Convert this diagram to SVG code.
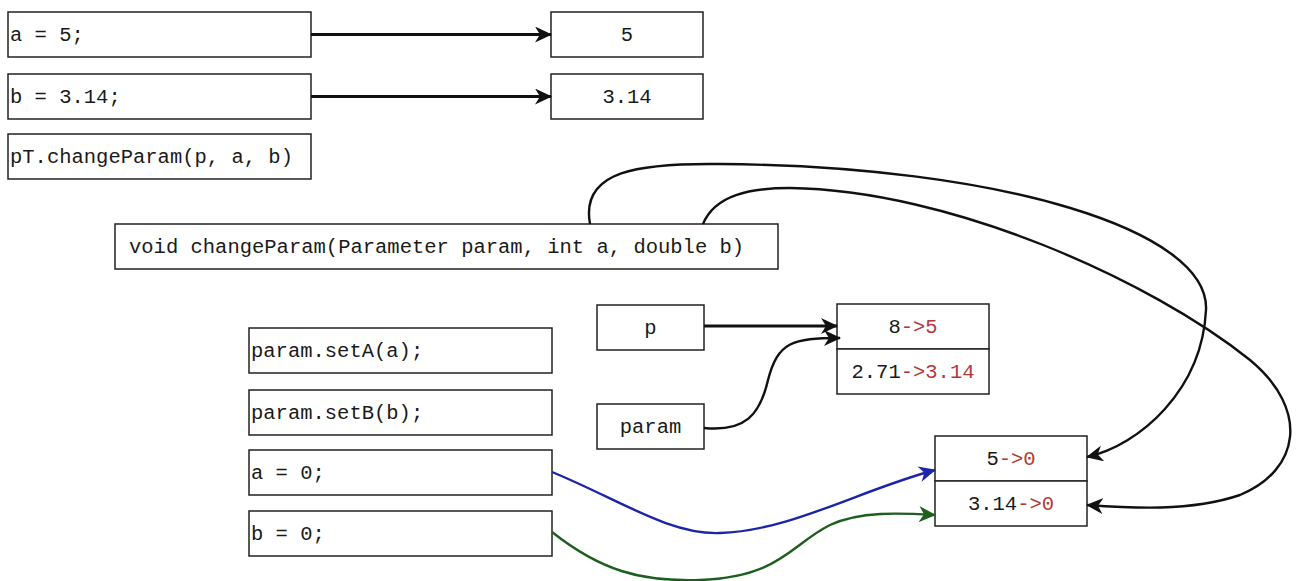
<svg xmlns="http://www.w3.org/2000/svg" width="1300" height="581" viewBox="0 0 1300 581">
  <style>
    .box { fill: #ffffff; stroke: #222222; stroke-width: 1.5; }
    .t { font-family: "Liberation Mono", "Courier New", monospace; font-size: 20.5px; fill: #1a1a1a; }
    .c { text-anchor: middle; }
    .red { fill: #b33a3a; }
    .edge { fill: none; stroke-width: 2.4; }
    .thick { stroke-width: 3; }
    .k { stroke: #111111; }
    .blue { stroke: #1c24a8; }
    .green { stroke: #1e5e1e; }
  </style>
  <defs>
    <marker id="arrK" markerUnits="userSpaceOnUse" markerWidth="18" markerHeight="16" refX="16" refY="8" orient="auto">
      <path d="M0,0 L17,8 L0,16 L5,8 z" fill="#111111"/>
    </marker>
    <marker id="arrB" markerUnits="userSpaceOnUse" markerWidth="18" markerHeight="16" refX="16" refY="8" orient="auto">
      <path d="M0,0 L17,8 L0,16 L5,8 z" fill="#1c24a8"/>
    </marker>
    <marker id="arrG" markerUnits="userSpaceOnUse" markerWidth="18" markerHeight="16" refX="16" refY="8" orient="auto">
      <path d="M0,0 L17,8 L0,16 L5,8 z" fill="#1e5e1e"/>
    </marker>
  </defs>
  <rect width="1300" height="581" fill="#ffffff"/>

  <!-- caller statements -->
  <g id="stmt-a5"><rect class="box" x="8" y="12" width="303" height="45"/><text class="t" x="10" y="41">a = 5;</text></g>
  <g id="stmt-b314"><rect class="box" x="8" y="74" width="303" height="45"/><text class="t" x="10" y="103">b = 3.14;</text></g>
  <g id="stmt-call"><rect class="box" x="8" y="134" width="303" height="45"/><text class="t" x="10" y="163">pT.changeParam(p, a, b)</text></g>

  <!-- caller values -->
  <g id="val-a"><rect class="box" x="551" y="12" width="152" height="45"/><text class="t c" x="627" y="41">5</text></g>
  <g id="val-b"><rect class="box" x="551" y="74" width="152" height="45"/><text class="t c" x="627" y="103">3.14</text></g>

  <!-- method signature -->
  <g id="signature"><rect class="box" x="115" y="224" width="663" height="45"/><text class="t" x="129" y="253">void changeParam(Parameter param, int a, double b)</text></g>

  <!-- references -->
  <g id="ref-p"><rect class="box" x="597" y="305" width="107" height="45"/><text class="t c" x="650.5" y="334">p</text></g>
  <g id="ref-param"><rect class="box" x="597" y="404" width="107" height="45"/><text class="t c" x="650.5" y="433">param</text></g>

  <!-- shared Parameter object -->
  <g id="object">
    <rect class="box" x="837" y="304" width="152" height="45"/>
    <rect class="box" x="837" y="349" width="152" height="45"/>
    <text class="t c" x="913" y="333">8<tspan class="red">-&gt;5</tspan></text>
    <text class="t c" x="913" y="378">2.71<tspan class="red">-&gt;3.14</tspan></text>
  </g>

  <!-- method body -->
  <g id="body-setA"><rect class="box" x="249" y="328" width="303" height="45"/><text class="t" x="251" y="357">param.setA(a);</text></g>
  <g id="body-setB"><rect class="box" x="249" y="390" width="303" height="45"/><text class="t" x="251" y="419">param.setB(b);</text></g>
  <g id="body-a0"><rect class="box" x="249" y="450" width="303" height="45"/><text class="t" x="251" y="479">a = 0;</text></g>
  <g id="body-b0"><rect class="box" x="249" y="511" width="303" height="45"/><text class="t" x="251" y="540">b = 0;</text></g>

  <!-- local copies -->
  <g id="locals">
    <rect class="box" x="935" y="436" width="152" height="45"/>
    <rect class="box" x="935" y="481" width="152" height="45"/>
    <text class="t c" x="1011" y="465">5<tspan class="red">-&gt;0</tspan></text>
    <text class="t c" x="1011" y="510">3.14<tspan class="red">-&gt;0</tspan></text>
  </g>

  <g id="connectors">
    <path class="edge thick k" d="M311,34.5 L551,34.5" marker-end="url(#arrK)"/>
    <path class="edge thick k" d="M311,96.5 L551,96.5" marker-end="url(#arrK)"/>
    <path class="edge thick k" d="M704,326 L837,326" marker-end="url(#arrK)"/>
    <path class="edge k" d="M704,428 C745,432 760,415 768,380 C778,342 792,338 840,338" marker-end="url(#arrK)"/>
    <path class="edge k" d="M590,224 C580,170 640,163 720,164 C1000,166 1210,230 1206,310 C1202,390 1140,445 1087,457" marker-end="url(#arrK)"/>
    <path class="edge k" d="M703,224 C715,195 750,188 790,188 C950,190 1150,280 1250,360 C1310,410 1300,470 1240,495 C1190,512 1130,508 1087,505" marker-end="url(#arrK)"/>
    <path class="edge blue" d="M552,472 C620,500 670,535 720,533 C790,531 860,490 935,470" marker-end="url(#arrB)"/>
    <path class="edge green" d="M552,532 C600,570 640,582 700,580 C780,577 790,545 830,525 C860,511 900,513 935,515" marker-end="url(#arrG)"/>
  </g>
</svg>
